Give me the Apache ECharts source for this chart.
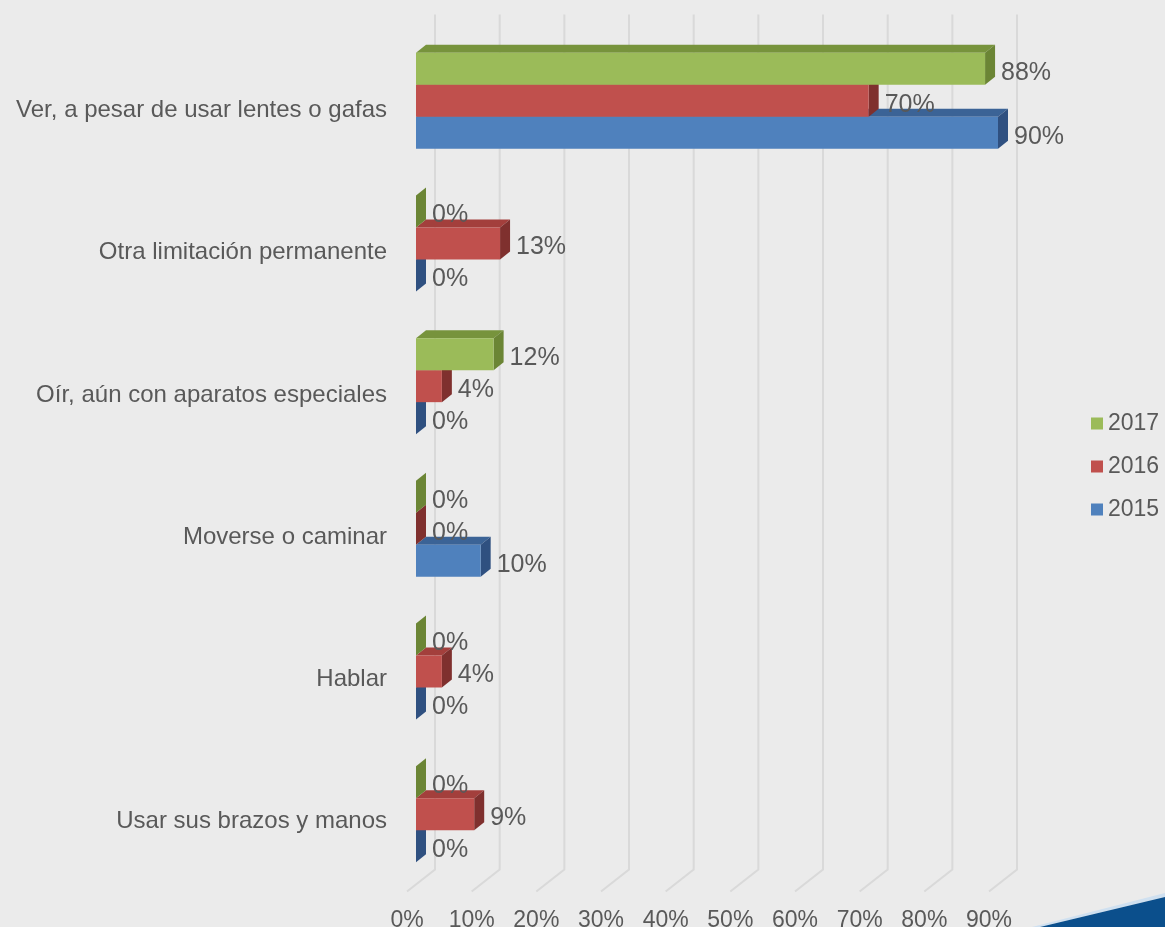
<!DOCTYPE html>
<html>
<head>
<meta charset="utf-8">
<script src="https://cdn.jsdelivr.net/npm/echarts@6/dist/echarts.min.js"></script>
<style>
  html, body { margin: 0; padding: 0; background: #ebebeb; }
  #chart { width: 1165px; height: 927px; }
</style>
</head>
<body>
<div id="chart"></div>
<script>
// ---- data ----
const categories = [
  'Ver, a pesar de usar lentes o gafas',
  'Otra limitación permanente',
  'Oír, aún con aparatos especiales',
  'Moverse o caminar',
  'Hablar',
  'Usar sus brazos y manos'
];
const years = ['2017', '2016', '2015'];
const values2017 = [88, 0, 12, 0, 0, 0];
const values2016 = [70, 13, 4, 0, 4, 9];
const values2015 = [90, 0, 0, 10, 0, 0];
const xTicks = [0, 10, 20, 30, 40, 50, 60, 70, 80, 90];

// ---- styles ----
const FONT = "'Liberation Sans', Arial, sans-serif";
const TEXT = '#595959';
const palette = {
  '2017': { front: '#9bbb59', top: '#77933c', side: '#6b8535' },
  '2016': { front: '#c0504d', top: '#a33f3c', side: '#7f302e' },
  '2015': { front: '#4f81bd', top: '#3b6396', side: '#2f5080' }
};
// slot within the category band (green top, red middle, blue bottom)
const slot = { '2017': -1, '2016': 0, '2015': 1 };
const BAR_OFF_X = 9;      // front face of bars relative to floor front
const DEPTH_X = 10, DEPTH_Y = -8;
const WALL_X = 28, WALL_Y = -22;
const GRID = { left: 407, top: 29.5, width: 582, height: 856 };

function barRender(year) {
  return function (params, api) {
    const cat = api.value(1);
    const val = api.value(0);
    const c0 = api.coord([0, cat]);
    const c1 = api.coord([val, cat]);
    const h = 32;
    const cy = c0[1] + slot[year] * h;
    const x0 = c0[0] + BAR_OFF_X;
    const x1 = c1[0] + BAR_OFF_X;
    const top = cy - h / 2, bot = cy + h / 2;
    const col = palette[year];
    return {
      type: 'group',
      children: [
        { type: 'polygon', shape: { points: [[x0, top], [x1, top], [x1 + DEPTH_X, top + DEPTH_Y], [x0 + DEPTH_X, top + DEPTH_Y]] },
          style: { fill: col.top } },
        { type: 'polygon', shape: { points: [[x1, top], [x1 + DEPTH_X, top + DEPTH_Y], [x1 + DEPTH_X, bot + DEPTH_Y], [x1, bot]] },
          style: { fill: col.side } },
        { type: 'rect', shape: { x: x0, y: top, width: Math.max(0, x1 - x0), height: h },
          style: { fill: col.front } },
        { type: 'text', z2: 100, x: x1 + DEPTH_X + 6, y: cy + 4,
          style: { text: val + '%', fill: TEXT, font: '25px ' + FONT, align: 'left', verticalAlign: 'middle' } }
      ]
    };
  };
}

function gridRender(params, api) {
  const v = api.value(0);
  const p = api.coord([v, 0]);
  const cs = params.coordSys;
  const floorY = cs.y + cs.height + 6;
  const topY = cs.y - 15;
  const bx = p[0] + WALL_X;
  return {
    type: 'polyline',
    shape: { points: [[bx, topY], [bx, floorY + WALL_Y], [p[0], floorY]] },
    style: { stroke: '#d9d9d9', lineWidth: 2, fill: null }
  };
}

function seriesData(arr) { return arr.map((v, i) => [v, i]); }

const chart = echarts.init(document.getElementById('chart'), null, { renderer: 'canvas' });
chart.setOption({
  backgroundColor: '#ebebeb',
  animation: false,
  textStyle: { fontFamily: FONT },
  grid: [
    { left: GRID.left, top: GRID.top, width: GRID.width, height: GRID.height, outerBoundsMode: 'none', containLabel: false },
    // label grid: nudged down so category labels sit on the 3D floor line
    { left: GRID.left, top: 39.5, width: GRID.width, height: 853, outerBoundsMode: 'none', containLabel: false }
  ],
  xAxis: [
    {
      type: 'value', min: 0, max: 90, interval: 10, gridIndex: 0,
      axisLine: { show: false }, axisTick: { show: false }, splitLine: { show: false },
      axisLabel: { formatter: '{value}%', color: TEXT, fontSize: 23, fontFamily: FONT, margin: 24 }
    },
    {
      type: 'value', min: 0, max: 90, interval: 10, gridIndex: 1, show: false
    }
  ],
  yAxis: [
    {
      type: 'category', data: categories, inverse: true, gridIndex: 0,
      axisLine: { show: false }, axisTick: { show: false }, splitLine: { show: false },
      axisLabel: { show: false }
    },
    {
      type: 'category', data: categories, inverse: true, gridIndex: 1,
      axisLine: { show: false }, axisTick: { show: false }, splitLine: { show: false },
      axisLabel: { color: TEXT, fontSize: 24, fontFamily: FONT, margin: 20 }
    }
  ],
  legend: {
    orient: 'vertical', left: 1091, top: 412, padding: 0, itemWidth: 12, itemHeight: 12, itemGap: 20,
    icon: 'rect', data: years,
    textStyle: { color: TEXT, fontSize: 23, fontFamily: FONT }
  },
  series: [
    { type: 'custom', name: 'grid', renderItem: gridRender, data: xTicks.map(v => [v, 0]), z: 1, silent: true },
    { type: 'custom', name: '2015', renderItem: barRender('2015'), data: seriesData(values2015), z: 2,
      itemStyle: { color: palette['2015'].front }, encode: { x: 0, y: 1 } },
    { type: 'custom', name: '2016', renderItem: barRender('2016'), data: seriesData(values2016), z: 2,
      itemStyle: { color: palette['2016'].front }, encode: { x: 0, y: 1 } },
    { type: 'custom', name: '2017', renderItem: barRender('2017'), data: seriesData(values2017), z: 2,
      itemStyle: { color: palette['2017'].front }, encode: { x: 0, y: 1 } }
  ],
  graphic: [
    { type: 'polygon', shape: { points: [[1032, 927], [1165, 893], [1165, 897], [1040, 927]] },
      style: { fill: '#cfe0f0' }, z: 10 },
    { type: 'polygon', shape: { points: [[1040, 927], [1165, 897], [1165, 927]] },
      style: { fill: '#0b4f8c' }, z: 10 }
  ]
});
</script>
</body>
</html>
